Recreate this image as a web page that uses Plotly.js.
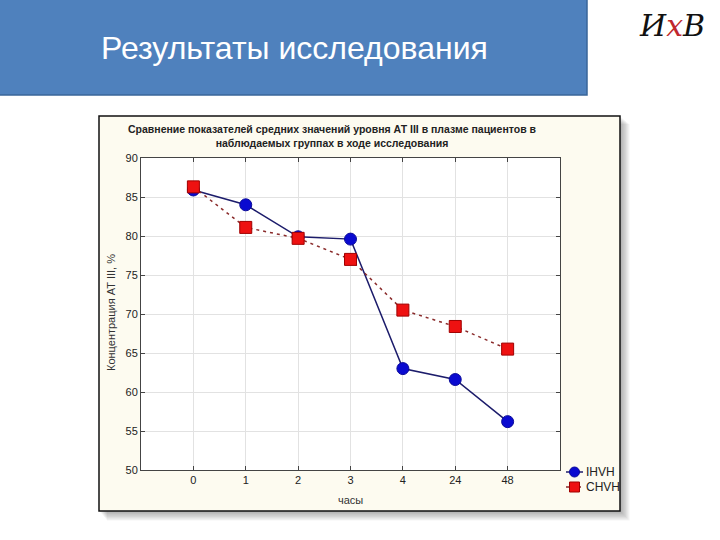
<!DOCTYPE html>
<html>
<head>
<meta charset="utf-8">
<script src="https://cdn.plot.ly/plotly-3.0.1.min.js"></script>
<style>html,body{margin:0;padding:0;background:#fff;}#chart{width:720px;height:540px;}</style>
</head>
<body>
<div id="chart"></div>
<script>
// ---- data ----
const hours = ["0", "1", "2", "3", "4", "24", "48"];
const ihvh = [85.9, 84.0, 79.9, 79.6, 63.0, 61.6, 56.2];
const chvh = [86.3, 81.1, 79.7, 77.0, 70.5, 68.4, 65.5];
const seriesNames = ["IHVH", "CHVH"];
const yTicks = [50, 55, 60, 65, 70, 75, 80, 85, 90];
const slideTitle = "Результаты исследования";
const chartTitle = "Сравнение показателей средних значений уровня АТ III в плазме пациентов в<br>наблюдаемых группах в ходе исследования";
const yTitle = "Концентрация АТ III, %";
const xTitle = "часы";

// ---- geometry (plot area in pixels) ----
const W = 720, H = 540;
const L = 141, R = 560, T = 158, B = 470;
const px = x => (x - L) / (R - L);
const py = y => (B - y) / (B - T);

const FONT = "Liberation Sans, Arial, sans-serif";
const colors = {
  ihvhLine: "#1c1c6b", ihvhMarker: "#0a0ad0", ihvhEdge: "#0a0a9a",
  chvhLine: "#8a2b2b", chvhMarker: "#ee1111", chvhEdge: "#a00000"
};

const traces = [
  {
    x: hours, y: ihvh, name: seriesNames[0], type: "scatter", mode: "lines+markers",
    line: {color: colors.ihvhLine, width: 1.5},
    marker: {symbol: "circle", size: 12, color: colors.ihvhMarker, line: {color: colors.ihvhEdge, width: 1}}
  },
  {
    x: hours, y: chvh, name: seriesNames[1], type: "scatter", mode: "lines+markers",
    line: {color: colors.chvhLine, width: 1.5, dash: "3px,4px"},
    marker: {symbol: "square", size: 12, color: colors.chvhMarker, line: {color: colors.chvhEdge, width: 1}}
  }
];

const shapes = [];
// slide header box
shapes.push({type: "rect", xref: "paper", yref: "paper", layer: "below",
  x0: px(-2), x1: px(587), y0: py(95), y1: py(-2),
  fillcolor: "#4f81bd", line: {color: "#3a6699", width: 1.5}});
// shadow of chart frame
for (let i = 1; i <= 8; i++) {
  shapes.push({type: "rect", xref: "paper", yref: "paper", layer: "below",
    x0: px(99 + i), x1: px(620 + i * 1.2), y0: py(511 + i * 1.2), y1: py(116 + i),
    fillcolor: "rgba(0,0,0,0.045)", line: {width: 0}});
}
// chart frame
shapes.push({type: "rect", xref: "paper", yref: "paper", layer: "below",
  x0: px(99), x1: px(620), y0: py(511), y1: py(116),
  fillcolor: "#fdfbf0", line: {color: "#111", width: 1.5}});
// white plotting area
shapes.push({type: "rect", xref: "paper", yref: "paper", layer: "below",
  x0: 0, x1: 1, y0: 0, y1: 1, fillcolor: "#ffffff", line: {width: 0}});

// manual legend (compact symbols like the original)
const legendRows = [
  {name: seriesNames[0], y: 472, line: colors.ihvhLine, dash: "solid", fill: colors.ihvhMarker, edge: colors.ihvhEdge, sym: "circle"},
  {name: seriesNames[1], y: 487, line: colors.chvhLine, dash: "dot", fill: colors.chvhMarker, edge: colors.chvhEdge, sym: "rect"}
];
const annotations = [];
legendRows.forEach(r => {
  shapes.push({type: "line", xref: "paper", yref: "paper", x0: px(566), x1: px(583), y0: py(r.y), y1: py(r.y),
    line: {color: r.line, width: 1.5, dash: r.dash}});
  shapes.push({type: r.sym, xref: "paper", yref: "paper", x0: px(569.5), x1: px(579.5), y0: py(r.y + 5), y1: py(r.y - 5),
    fillcolor: r.fill, line: {color: r.edge, width: 1}});
  annotations.push({xref: "paper", yref: "paper", x: px(584), y: py(r.y), xanchor: "left", yanchor: "middle",
    text: r.name, showarrow: false, font: {family: FONT, size: 12, color: "#222"}});
});

annotations.push(
  {xref: "paper", yref: "paper", x: px(294), y: py(48), xanchor: "center", yanchor: "middle",
   text: slideTitle, showarrow: false, font: {family: FONT, size: 32, color: "#ffffff"}},
  {xref: "paper", yref: "paper", x: px(672), y: py(26), xanchor: "center", yanchor: "middle",
   text: "<i>И<span style='color:#c0272d'>x</span>В</i>", showarrow: false,
   font: {family: "DejaVu Serif, serif", size: 30, color: "#111"}},
  {xref: "paper", yref: "paper", x: px(332), y: py(136), xanchor: "center", yanchor: "middle",
   text: "<b>" + chartTitle.replace("<br>", "</b><br><b>") + "</b>", showarrow: false,
   font: {family: FONT, size: 10.5, color: "#222"}},
  {xref: "paper", yref: "paper", x: px(111), y: py(313), xanchor: "center", yanchor: "middle",
   text: yTitle, textangle: -90, showarrow: false, font: {family: FONT, size: 11, color: "#333"}},
  {xref: "paper", yref: "paper", x: px(350), y: py(500), xanchor: "center", yanchor: "middle",
   text: xTitle, showarrow: false, font: {family: FONT, size: 11, color: "#333"}}
);

const layout = {
  width: W, height: H,
  margin: {l: L, r: W - R, t: T, b: H - B, pad: 0},
  paper_bgcolor: "#ffffff",
  plot_bgcolor: "#ffffff",
  showlegend: false,
  xaxis: {
    type: "category", range: [-1, 7], showgrid: true, gridcolor: "#e2e2e2", gridwidth: 1,
    showline: true, linecolor: "#444", linewidth: 1, mirror: "ticks",
    ticks: "inside", ticklen: 4, tickcolor: "#444",
    tickfont: {family: FONT, size: 11, color: "#222"}, zeroline: false, fixedrange: true
  },
  yaxis: {
    range: [50, 90], tickvals: yTicks, showgrid: true, gridcolor: "#e2e2e2", gridwidth: 1,
    showline: true, linecolor: "#444", linewidth: 1, mirror: "ticks",
    ticks: "inside", ticklen: 4, tickcolor: "#444",
    tickfont: {family: FONT, size: 11, color: "#222"}, zeroline: false, fixedrange: true
  },
  shapes: shapes,
  annotations: annotations
};

Plotly.newPlot("chart", traces, layout, {displayModeBar: false, staticPlot: true});
</script>
</body>
</html>
